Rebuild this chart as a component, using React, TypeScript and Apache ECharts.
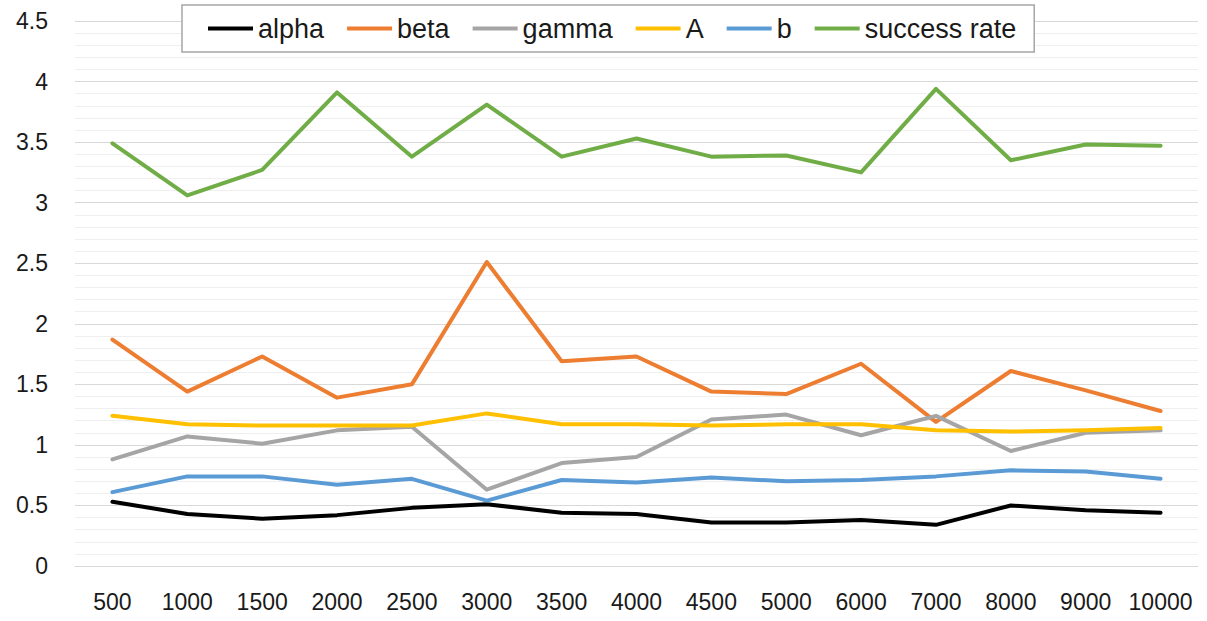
import React, { useEffect, useRef } from "react";
import * as echarts from "echarts";

const categories = ["500", "1000", "1500", "2000", "2500", "3000", "3500", "4000", "4500", "5000", "6000", "7000", "8000", "9000", "10000"];
const alpha = [0.53, 0.43, 0.39, 0.42, 0.48, 0.51, 0.44, 0.43, 0.36, 0.36, 0.38, 0.34, 0.5, 0.46, 0.44];
const beta = [1.87, 1.44, 1.73, 1.39, 1.5, 2.51, 1.69, 1.73, 1.44, 1.42, 1.67, 1.19, 1.61, 1.45, 1.28];
const gamma = [0.88, 1.07, 1.01, 1.12, 1.15, 0.63, 0.85, 0.9, 1.21, 1.25, 1.08, 1.24, 0.95, 1.1, 1.12];
const A = [1.24, 1.17, 1.16, 1.16, 1.16, 1.26, 1.17, 1.17, 1.16, 1.17, 1.17, 1.12, 1.11, 1.12, 1.14];
const b = [0.61, 0.74, 0.74, 0.67, 0.72, 0.54, 0.71, 0.69, 0.73, 0.7, 0.71, 0.74, 0.79, 0.78, 0.72];
const successRate = [3.49, 3.06, 3.27, 3.91, 3.38, 3.81, 3.38, 3.53, 3.38, 3.39, 3.25, 3.94, 3.35, 3.48, 3.47];
const yTicks = [0, 0.5, 1, 1.5, 2, 2.5, 3, 3.5, 4, 4.5];

const seriesDefs = [
  { name: "alpha", data: alpha, color: "#000000" },
  { name: "beta", data: beta, color: "#ED7D31" },
  { name: "gamma", data: gamma, color: "#A5A5A5" },
  { name: "A", data: A, color: "#FFC000" },
  { name: "b", data: b, color: "#5B9BD5" },
  { name: "success rate", data: successRate, color: "#70AD47" },
];

const FONT = "Liberation Sans, Arial, sans-serif";

export default function App() {
  const ref = useRef<HTMLDivElement>(null);
  useEffect(() => {
    if (!ref.current) return;
    const chart = echarts.init(ref.current, null, { renderer: "svg" });
    chart.setOption({
      animation: false,
      backgroundColor: "#ffffff",
      legend: {
        data: seriesDefs.map((s) => s.name),
        top: 5,
        left: 182,
        width: 1000,
        icon: "rect",
        itemWidth: 45,
        itemHeight: 4,
        itemGap: 23,
        padding: [10, 18, 10, 26],
        borderColor: "#a6a6a6",
        borderWidth: 1.5,
        backgroundColor: "#ffffff",
        textStyle: { fontFamily: FONT, fontSize: 27, color: "#1a1a1a" },
      },
      grid: { left: 75, right: 9, top: 21, bottom: 55, containLabel: false },
      xAxis: {
        type: "category",
        data: categories,
        boundaryGap: true,
        axisLine: { show: true, lineStyle: { color: "#d9d9d9", width: 1 } },
        axisTick: { show: false },
        axisLabel: { fontFamily: FONT, fontSize: 23, color: "#1a1a1a", margin: 24, interval: 0 },
        splitLine: { show: false },
      },
      yAxis: {
        type: "value",
        min: yTicks[0],
        max: yTicks[yTicks.length - 1],
        interval: 0.5,
        axisLine: { show: false },
        axisTick: { show: false },
        axisLabel: { fontFamily: FONT, fontSize: 23, color: "#1a1a1a", margin: 27 },
        splitLine: { show: true, lineStyle: { color: "#d9d9d9", width: 1 } },
        minorTick: { show: false, splitNumber: 5 },
        minorSplitLine: { show: true, lineStyle: { color: "#efefef", width: 1 } },
      },
      series: seriesDefs.map((s) => ({
        name: s.name,
        type: "line",
        data: s.data,
        symbol: "none",
        showSymbol: false,
        lineStyle: { color: s.color, width: 4, cap: "round", join: "round" },
        itemStyle: { color: s.color },
        emphasis: { disabled: true },
      })),
    });
    return () => chart.dispose();
  }, []);
  return <div ref={ref} style={{ position: "fixed", left: 0, top: 0, width: 1207, height: 621 }} />;
}
